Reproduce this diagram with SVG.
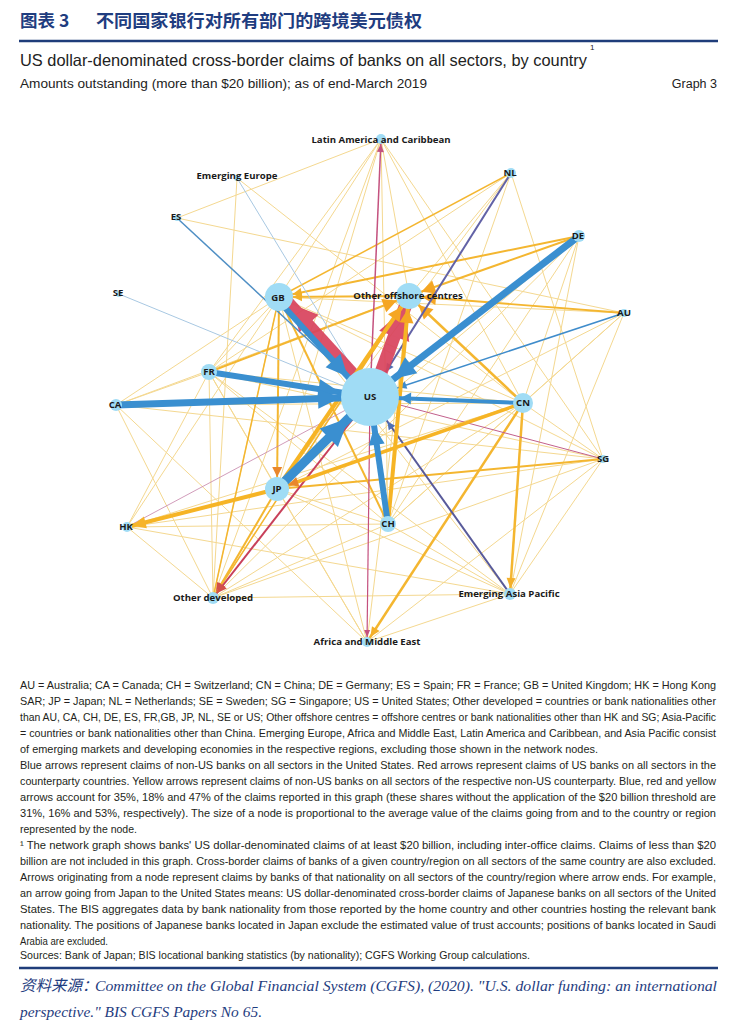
<svg xmlns="http://www.w3.org/2000/svg" width="730" height="1033" viewBox="0 0 730 1033">
<style>
.y1{stroke:#efc456;stroke-width:1;opacity:.65}
.y2{stroke:#f4b630;stroke-width:2}
.y3{stroke:#f6b425;stroke-width:4}
.bl{stroke:#3a8fd0}
.rd{stroke:#d8435d;opacity:.92}
.node{fill:#a0dcf5}
.lbl{font-family:"Open Sans","Noto Sans",sans-serif;font-weight:bold;font-size:9.6px;fill:#1a1a1a;text-anchor:middle}
.note{font-family:"Liberation Sans",Arial,sans-serif;font-size:10.3px;fill:#231f20}
.src{font-family:"Liberation Serif","Noto Sans CJK SC",serif;font-style:italic;font-size:15.5px;fill:#1f3d80}
</style>
<defs>
<marker id="mBL" markerUnits="userSpaceOnUse" orient="auto" refX="30" refY="0" markerWidth="1" markerHeight="1" overflow="visible"><path d="M0,0 L-28,-13 L-28,13 Z" fill="#3a8fd0"/></marker>
<marker id="mBM" markerUnits="userSpaceOnUse" orient="auto" refX="30" refY="0" markerWidth="1" markerHeight="1" overflow="visible"><path d="M0,0 L-22,-10 L-22,10 Z" fill="#3a8fd0"/></marker>
<marker id="mBS" markerUnits="userSpaceOnUse" orient="auto" refX="30" refY="0" markerWidth="1" markerHeight="1" overflow="visible"><path d="M0,0 L-18,-8 L-18,8 Z" fill="#3a8fd0"/></marker>
<marker id="mBX" markerUnits="userSpaceOnUse" orient="auto" refX="30" refY="0" markerWidth="1" markerHeight="1" overflow="visible"><path d="M0,0 L-11,-6 L-11,6 Z" fill="#3a8fd0"/></marker>
<marker id="mBT" markerUnits="userSpaceOnUse" orient="auto" refX="30" refY="0" markerWidth="1" markerHeight="1" overflow="visible"><path d="M0,0 L-8,-4 L-8,4 Z" fill="#3f8ccb"/></marker>
<marker id="mPU" markerUnits="userSpaceOnUse" orient="auto" refX="30" refY="0" markerWidth="1" markerHeight="1" overflow="visible"><path d="M0,0 L-8,-4 L-8,4 Z" fill="#4f6fb4"/></marker>
<marker id="mRG" markerUnits="userSpaceOnUse" orient="auto" refX="14" refY="0" markerWidth="1" markerHeight="1" overflow="visible"><path d="M0,0 L-26,-13 L-26,13 Z" fill="#d8435d"/></marker>
<marker id="mRO" markerUnits="userSpaceOnUse" orient="auto" refX="13" refY="0" markerWidth="1" markerHeight="1" overflow="visible"><path d="M0,0 L-30,-16 L-30,16 Z" fill="#d8435d"/></marker>
<marker id="mYO" markerUnits="userSpaceOnUse" orient="auto" refX="13" refY="0" markerWidth="1" markerHeight="1" overflow="visible"><path d="M0,0 L-14,-7 L-14,7 Z" fill="#f5a623"/></marker>
<marker id="mYG" markerUnits="userSpaceOnUse" orient="auto" refX="14" refY="0" markerWidth="1" markerHeight="1" overflow="visible"><path d="M0,0 L-9,-4.5 L-9,4.5 Z" fill="#f2b02a"/></marker>
<marker id="mYJ" markerUnits="userSpaceOnUse" orient="auto" refX="12" refY="0" markerWidth="1" markerHeight="1" overflow="visible"><path d="M0,0 L-10,-5 L-10,5 Z" fill="#e9872c"/></marker>
<marker id="mYH" markerUnits="userSpaceOnUse" orient="auto" refX="5" refY="0" markerWidth="1" markerHeight="1" overflow="visible"><path d="M0,0 L-14,-6 L-14,6 Z" fill="#f6b42a"/></marker>
<marker id="mYE" markerUnits="userSpaceOnUse" orient="auto" refX="6" refY="0" markerWidth="1" markerHeight="1" overflow="visible"><path d="M0,0 L-10,-4.5 L-10,4.5 Z" fill="#f4b02a"/></marker>
<marker id="mRD" markerUnits="userSpaceOnUse" orient="auto" refX="6" refY="0" markerWidth="1" markerHeight="1" overflow="visible"><path d="M0,0 L-10,-5 L-10,5 Z" fill="#d2504a"/></marker>
<marker id="mPL" markerUnits="userSpaceOnUse" orient="auto" refX="5" refY="0" markerWidth="1" markerHeight="1" overflow="visible"><path d="M0,0 L-8,-3.5 L-8,3.5 Z" fill="#c4527f"/></marker>
<marker id="mPA" markerUnits="userSpaceOnUse" orient="auto" refX="5" refY="0" markerWidth="1" markerHeight="1" overflow="visible"><path d="M0,0 L-7,-3 L-7,3 Z" fill="#c4507e"/></marker>
</defs>
<rect width="730" height="1033" fill="#ffffff"/>

<g id="header">
<text x="20" y="27" font-family="'Noto Sans CJK SC',sans-serif" font-weight="bold" font-size="17.5" fill="#1f3d80">图表 3</text>
<text x="96" y="27" font-family="'Noto Sans CJK SC',sans-serif" font-weight="bold" font-size="17.5" fill="#1f3d80" textLength="326" lengthAdjust="spacingAndGlyphs">不同国家银行对所有部门的跨境美元债权</text>
<line x1="19" y1="41" x2="718" y2="41" stroke="#1f3d7a" stroke-width="2.5"/>
<text x="20" y="66" font-family="'Liberation Sans',Arial,sans-serif" font-size="16.5" fill="#222" textLength="567" lengthAdjust="spacingAndGlyphs">US dollar-denominated cross-border claims of banks on all sectors, by country</text>
<text x="590" y="50" font-family="'Liberation Sans',Arial,sans-serif" font-size="8" fill="#222">1</text>
<text x="20" y="88" font-family="'Liberation Sans',Arial,sans-serif" font-size="12.5" fill="#222" textLength="407" lengthAdjust="spacingAndGlyphs">Amounts outstanding (more than $20 billion); as of end-March 2019</text>
<text x="717" y="88" font-family="'Liberation Sans',Arial,sans-serif" font-size="12.5" fill="#222" text-anchor="end">Graph 3</text>
</g>

<g id="connectors" fill="none">
<g class="y1">
<line x1="381" y1="139" x2="177" y2="218"/>
<line x1="381" y1="139" x2="279" y2="297"/>
<line x1="381" y1="139" x2="213" y2="598"/>
<line x1="381" y1="139" x2="277" y2="489"/>
<line x1="381" y1="139" x2="409" y2="296"/>
<line x1="381" y1="139" x2="523" y2="403"/>
<line x1="381" y1="139" x2="209" y2="372"/>
<line x1="381" y1="139" x2="388" y2="524"/>
<line x1="381" y1="139" x2="603" y2="459"/>
<line x1="237" y1="178" x2="213" y2="598"/>
<line x1="237" y1="178" x2="523" y2="403"/>
<line x1="177" y1="218" x2="624" y2="313"/>
<line x1="511" y1="173" x2="409" y2="296"/>
<line x1="511" y1="173" x2="209" y2="372"/>
<line x1="511" y1="173" x2="277" y2="489"/>
<line x1="511" y1="173" x2="603" y2="459"/>
<line x1="511" y1="173" x2="388" y2="524"/>
<line x1="579" y1="236" x2="213" y2="598"/>
<line x1="579" y1="236" x2="510" y2="594"/>
<line x1="579" y1="236" x2="388" y2="524"/>
<line x1="579" y1="236" x2="277" y2="489"/>
<line x1="624" y1="313" x2="388" y2="524"/>
<line x1="624" y1="313" x2="277" y2="489"/>
<line x1="624" y1="313" x2="510" y2="594"/>
<line x1="603" y1="459" x2="523" y2="403"/>
<line x1="603" y1="459" x2="213" y2="598"/>
<line x1="603" y1="459" x2="127" y2="527"/>
<line x1="603" y1="459" x2="209" y2="372"/>
<line x1="603" y1="459" x2="116" y2="405"/>
<line x1="603" y1="459" x2="510" y2="594"/>
<line x1="603" y1="459" x2="367" y2="642"/>
<line x1="603" y1="459" x2="279" y2="297"/>
<line x1="523" y1="403" x2="209" y2="372"/>
<line x1="523" y1="403" x2="127" y2="527"/>
<line x1="523" y1="403" x2="213" y2="598"/>
<line x1="523" y1="403" x2="116" y2="405"/>
<line x1="523" y1="403" x2="388" y2="524"/>
<line x1="523" y1="403" x2="579" y2="236"/>
<line x1="523" y1="403" x2="624" y2="313"/>
<line x1="523" y1="403" x2="279" y2="297"/>
<line x1="277" y1="489" x2="367" y2="642"/>
<line x1="277" y1="489" x2="510" y2="594"/>
<line x1="277" y1="489" x2="388" y2="524"/>
<line x1="277" y1="489" x2="209" y2="372"/>
<line x1="209" y1="372" x2="213" y2="598"/>
<line x1="209" y1="372" x2="116" y2="405"/>
<line x1="209" y1="372" x2="388" y2="524"/>
<line x1="209" y1="372" x2="510" y2="594"/>
<line x1="209" y1="372" x2="367" y2="642"/>
<line x1="116" y1="405" x2="213" y2="598"/>
<line x1="116" y1="405" x2="279" y2="297"/>
<line x1="116" y1="405" x2="409" y2="296"/>
<line x1="127" y1="527" x2="279" y2="297"/>
<line x1="127" y1="527" x2="510" y2="594"/>
<line x1="127" y1="527" x2="213" y2="598"/>
<line x1="127" y1="527" x2="209" y2="372"/>
<line x1="213" y1="598" x2="510" y2="594"/>
<line x1="213" y1="598" x2="279" y2="297"/>
<line x1="213" y1="598" x2="409" y2="296"/>
<line x1="213" y1="598" x2="388" y2="524"/>
<line x1="510" y1="594" x2="279" y2="297"/>
<line x1="510" y1="594" x2="367" y2="642"/>
<line x1="510" y1="594" x2="388" y2="524"/>
<line x1="367" y1="642" x2="279" y2="297"/>
<line x1="367" y1="642" x2="409" y2="296"/>
<line x1="367" y1="642" x2="116" y2="405"/>
<line x1="388" y1="524" x2="127" y2="527"/>
<line x1="279" y1="297" x2="209" y2="372"/>
<line x1="624" y1="313" x2="279" y2="297"/>
</g>
<g class="y2">
<line x1="511" y1="173" x2="279" y2="297" stroke-width="1.5"/>
<line x1="579" y1="236" x2="279" y2="297" marker-end="url(#mYG)"/>
<line x1="579" y1="236" x2="409" y2="296" marker-end="url(#mYO)"/>
<line x1="624" y1="313" x2="409" y2="296" stroke-width="1.8" marker-end="url(#mYO)"/>
<line x1="409" y1="296" x2="279" y2="297" marker-end="url(#mYG)"/>
<line x1="279" y1="297" x2="277" y2="489" marker-end="url(#mYJ)"/>
<line x1="279" y1="297" x2="388" y2="524"/>
<line x1="209" y1="372" x2="409" y2="296" marker-end="url(#mYO)"/>
<line x1="523" y1="403" x2="409" y2="296" stroke-width="2.5" marker-end="url(#mYO)"/>
<line x1="523" y1="403" x2="510" y2="594" stroke-width="2.5" marker-end="url(#mYE)"/>
<line x1="523" y1="403" x2="367" y2="642" stroke-width="2.5" marker-end="url(#mYE)"/>
<line x1="603" y1="459" x2="277" y2="489"/>
<line x1="277" y1="489" x2="213" y2="598" marker-end="url(#mRD)"/>
<line x1="279" y1="297" x2="213" y2="598" stroke-width="1.5"/>
<line x1="409" y1="296" x2="213" y2="598" stroke-width="1.5"/>
</g>
<line x1="370" y1="397" x2="381" y2="139" stroke="#c4527f" stroke-width="1.5" marker-end="url(#mPL)"/>
<line x1="370" y1="397" x2="603" y2="459" stroke="#c2608c" stroke-width="1"/>
<line x1="370" y1="397" x2="127" y2="527" stroke="#c583a8" stroke-width=".8"/>
<line x1="370" y1="397" x2="213" y2="598" stroke="#c8405a" stroke-width="2" marker-end="url(#mRD)"/>
<line x1="370" y1="397" x2="367" y2="642" stroke="#c4507e" stroke-width="1.2" marker-end="url(#mPA)"/>
<line x1="511" y1="173" x2="370" y2="397" stroke="#6262a6" stroke-width="2" marker-end="url(#mPU)"/>
<line x1="510" y1="594" x2="370" y2="397" stroke="#585a9a" stroke-width="2" marker-end="url(#mPU)"/>
<line x1="237" y1="178" x2="370" y2="397" stroke="#a8c8e2" stroke-width="1"/>
<line x1="119" y1="294" x2="370" y2="397" stroke="#a8c8e2" stroke-width="1"/>
<line x1="177" y1="218" x2="370" y2="397" stroke="#4f8fc4" stroke-width="1.5"/>
<line x1="624" y1="313" x2="370" y2="397" stroke="#3f8ccb" stroke-width="1.5" marker-end="url(#mBT)"/>
<line class="rd" x1="373" y1="394" x2="282" y2="294" stroke-width="10" marker-end="url(#mRG)"/>
<line class="rd" x1="372" y1="397" x2="409" y2="296" stroke-width="13" marker-end="url(#mRO)"/>
<g class="y3">
<line x1="277" y1="489" x2="127" y2="527" marker-end="url(#mYH)"/>
<line x1="523" y1="403" x2="277" y2="489" stroke-width="3.5" marker-end="url(#mYJ)"/>
<line x1="277" y1="489" x2="409" y2="296" marker-end="url(#mYO)"/>
<line x1="388" y1="524" x2="409" y2="296" marker-end="url(#mYO)"/>
</g>
<g class="bl">
<line x1="523" y1="403" x2="370" y2="397" stroke-width="4" marker-end="url(#mBX)"/>
<line x1="388" y1="524" x2="370" y2="397" stroke-width="6" marker-end="url(#mBS)"/>
<line x1="579" y1="236" x2="370" y2="397" stroke-width="7" marker-end="url(#mBM)"/>
<line x1="209" y1="372" x2="370" y2="397" stroke-width="6" marker-end="url(#mBM)"/>
<line x1="116" y1="405" x2="370" y2="397" stroke-width="7" marker-end="url(#mBM)"/>
<line x1="277" y1="489" x2="370" y2="397" stroke-width="9" marker-end="url(#mBL)"/>
<line x1="277" y1="299" x2="368" y2="399" stroke-width="6" marker-end="url(#mBM)"/>
</g>
</g>

<g id="n-LA"><circle class="node" cx="381" cy="139" r="5"/><text class="lbl" x="381" y="143">Latin America and Caribbean</text></g>
<g id="n-EE"><circle class="node" cx="237" cy="178" r="3"/><text class="lbl" x="237" y="179">Emerging Europe</text></g>
<g id="n-NL"><circle class="node" cx="511" cy="173" r="5"/><text class="lbl" x="510" y="176">NL</text></g>
<g id="n-ES"><circle class="node" cx="177" cy="218" r="3"/><text class="lbl" x="176" y="220">ES</text></g>
<g id="n-DE"><circle class="node" cx="579" cy="236" r="6"/><text class="lbl" x="578" y="239">DE</text></g>
<g id="n-SE"><circle class="node" cx="119" cy="294" r="3"/><text class="lbl" x="118" y="296">SE</text></g>
<g id="n-GB"><circle class="node" cx="279" cy="297" r="14"/><text class="lbl" x="278" y="301">GB</text></g>
<g id="n-OF"><circle class="node" cx="409" cy="296" r="13"/><text class="lbl" x="408" y="299">Other offshore centres</text></g>
<g id="n-AU"><circle class="node" cx="624" cy="313" r="4"/><text class="lbl" x="624" y="316">AU</text></g>
<g id="n-FR"><circle class="node" cx="209" cy="372" r="8"/><text class="lbl" x="209" y="375">FR</text></g>
<g id="n-CA"><circle class="node" cx="116" cy="405" r="6"/><text class="lbl" x="115" y="408">CA</text></g>
<g id="n-US"><circle class="node" cx="370" cy="397" r="29"/><text class="lbl" x="370" y="400" font-size="10.5">US</text></g>
<g id="n-CN"><circle class="node" cx="523" cy="403" r="10"/><text class="lbl" x="523" y="406">CN</text></g>
<g id="n-SG"><circle class="node" cx="603" cy="459" r="4"/><text class="lbl" x="603" y="462">SG</text></g>
<g id="n-JP"><circle class="node" cx="277" cy="489" r="12"/><text class="lbl" x="277" y="492">JP</text></g>
<g id="n-HK"><circle class="node" cx="127" cy="527" r="5"/><text class="lbl" x="126" y="530">HK</text></g>
<g id="n-CH"><circle class="node" cx="388" cy="524" r="8"/><text class="lbl" x="388" y="527">CH</text></g>
<g id="n-OD"><circle class="node" cx="213" cy="598" r="6"/><text class="lbl" x="213" y="601">Other developed</text></g>
<g id="n-EAP"><circle class="node" cx="510" cy="594" r="6"/><text class="lbl" x="509" y="597">Emerging Asia Pacific</text></g>
<g id="n-AME"><circle class="node" cx="367" cy="642" r="5"/><text class="lbl" x="367" y="645">Africa and Middle East</text></g>

<g id="notes" class="note">
<text x="20" y="689" textLength="696" lengthAdjust="spacingAndGlyphs">AU = Australia; CA = Canada; CH = Switzerland; CN = China; DE = Germany; ES = Spain; FR = France; GB = United Kingdom; HK = Hong Kong</text>
<text x="20" y="705" textLength="696" lengthAdjust="spacingAndGlyphs">SAR; JP = Japan; NL = Netherlands; SE = Sweden; SG = Singapore; US = United States; Other developed = countries or bank nationalities other</text>
<text x="20" y="721" textLength="696" lengthAdjust="spacingAndGlyphs">than AU, CA, CH, DE, ES, FR,GB, JP, NL, SE or US; Other offshore centres = offshore centres or bank nationalities other than HK and SG; Asia-Pacific</text>
<text x="20" y="737" textLength="696" lengthAdjust="spacingAndGlyphs">= countries or bank nationalities other than China. Emerging Europe, Africa and Middle East, Latin America and Caribbean, and Asia Pacific consist</text>
<text x="20" y="753" textLength="578" lengthAdjust="spacingAndGlyphs">of emerging markets and developing economies in the respective regions, excluding those shown in the network nodes.</text>
<text x="20" y="769" textLength="696" lengthAdjust="spacingAndGlyphs">Blue arrows represent claims of non-US banks on all sectors in the United States. Red arrows represent claims of US banks on all sectors in the</text>
<text x="20" y="785" textLength="696" lengthAdjust="spacingAndGlyphs">counterparty countries. Yellow arrows represent claims of non-US banks on all sectors of the respective non-US counterparty. Blue, red and yellow</text>
<text x="20" y="801" textLength="696" lengthAdjust="spacingAndGlyphs">arrows account for 35%, 18% and 47% of the claims reported in this graph (these shares without the application of the $20 billion threshold are</text>
<text x="20" y="817" textLength="696" lengthAdjust="spacingAndGlyphs">31%, 16% and 53%, respectively). The size of a node is proportional to the average value of the claims going from and to the country or region</text>
<text x="20" y="833" textLength="117" lengthAdjust="spacingAndGlyphs">represented by the node.</text>
<text x="20" y="849" textLength="696" lengthAdjust="spacingAndGlyphs">¹ The network graph shows banks' US dollar-denominated claims of at least $20 billion, including inter-office claims. Claims of less than $20</text>
<text x="20" y="865" textLength="696" lengthAdjust="spacingAndGlyphs">billion are not included in this graph. Cross-border claims of banks of a given country/region on all sectors of the same country are also excluded.</text>
<text x="20" y="881" textLength="696" lengthAdjust="spacingAndGlyphs">Arrows originating from a node represent claims by banks of that nationality on all sectors of the country/region where arrow ends. For example,</text>
<text x="20" y="897" textLength="696" lengthAdjust="spacingAndGlyphs">an arrow going from Japan to the United States means: US dollar-denominated cross-border claims of Japanese banks on all sectors of the United</text>
<text x="20" y="913" textLength="696" lengthAdjust="spacingAndGlyphs">States. The BIS aggregates data by bank nationality from those reported by the home country and other countries hosting the relevant bank</text>
<text x="20" y="929" textLength="696" lengthAdjust="spacingAndGlyphs">nationality. The positions of Japanese banks located in Japan exclude the estimated value of trust accounts; positions of banks located in Saudi</text>
<text x="20" y="945" textLength="88" lengthAdjust="spacingAndGlyphs">Arabia are excluded.</text>
<text x="20" y="959" textLength="510" lengthAdjust="spacingAndGlyphs">Sources: Bank of Japan; BIS locational banking statistics (by nationality); CGFS Working Group calculations.</text>
</g>

<g id="footer">
<line x1="19" y1="968" x2="718" y2="968" stroke="#1f3d7a" stroke-width="2.5"/>
<text class="src" x="20" y="991" font-family="'Noto Sans CJK SC',sans-serif" font-size="14.5">资料来源：</text>
<text class="src" x="95" y="991" textLength="622" lengthAdjust="spacingAndGlyphs">Committee on the Global Financial System (CGFS), (2020). "U.S. dollar funding: an international</text>
<text class="src" x="20" y="1017" textLength="242" lengthAdjust="spacingAndGlyphs">perspective." BIS CGFS Papers No 65.</text>
</g>
</svg>
